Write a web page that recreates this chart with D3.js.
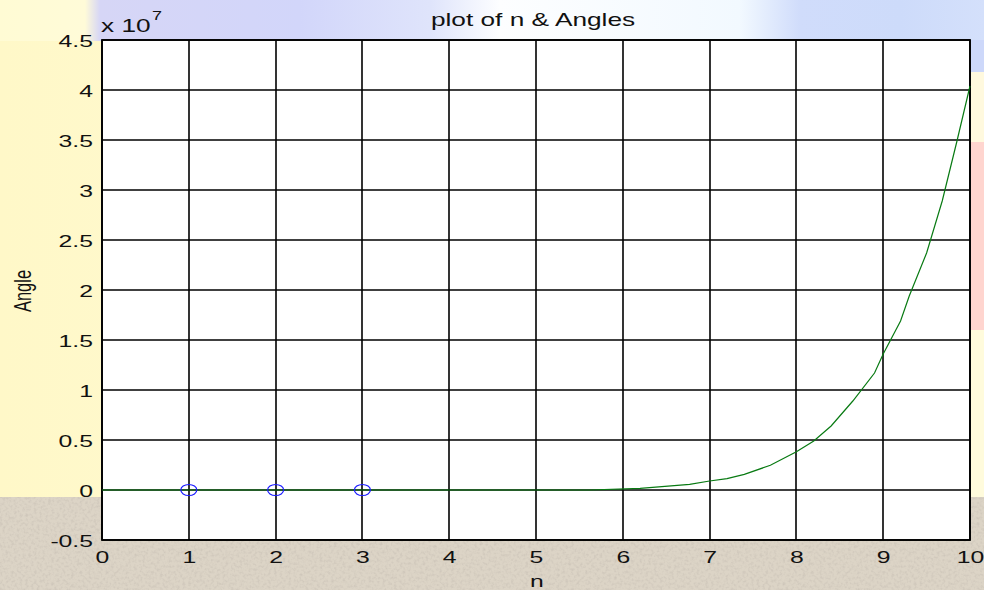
<!DOCTYPE html>
<html>
<head>
<meta charset="utf-8">
<script src="https://cdn.jsdelivr.net/npm/d3@7/dist/d3.min.js"></script>
<style>
  html, body { margin: 0; padding: 0; background: #dcd4c6; }
  svg { display: block; }
  text { font-family: "Liberation Sans", Arial, sans-serif; fill: #111; }
</style>
</head>
<body>
<script>
// ---- data ----
const xTicks = [0, 1, 2, 3, 4, 5, 6, 7, 8, 9, 10];
const yTicks = [-0.5e7, 0, 0.5e7, 1e7, 1.5e7, 2e7, 2.5e7, 3e7, 3.5e7, 4e7, 4.5e7];
const yTickLabels = ["-0.5", "0", "0.5", "1", "1.5", "2", "2.5", "3", "3.5", "4", "4.5"];
const markerN = [1, 2, 3];
const markerAngle = [0, 0, 0];
const curveN = [0, 5.62, 6.2, 6.77, 7.0, 7.2, 7.4, 7.7, 8.0, 8.2, 8.4, 8.65, 8.9, 9.0, 9.2, 9.3, 9.5, 9.68, 9.85, 10];
const curveAngle = [0, 0, 0.017e7, 0.057e7, 0.09e7, 0.113e7, 0.157e7, 0.247e7, 0.383e7, 0.49e7, 0.64e7,
                    0.89e7, 1.17e7, 1.36e7, 1.69e7, 1.94e7, 2.37e7, 2.89e7, 3.49e7, 4.04e7];
const titleText = "plot of n & Angles";
const xLabel = "n";
const yLabel = "Angle";

const W = 984, H = 590;
const SX = 1.5; // horizontal stretch of the original picture
const svg = d3.select("body").append("svg").attr("width", W).attr("height", H);
const defs = svg.append("defs");

// ---- background ----
const gl = defs.append("linearGradient").attr("id", "leftYellow").attr("x1", 0).attr("x2", 1).attr("y1", 0).attr("y2", 0);
gl.append("stop").attr("offset", 0).attr("stop-color", "#fff8c8");
gl.append("stop").attr("offset", 1).attr("stop-color", "#fffde2");
const gt = defs.append("linearGradient").attr("id", "topBlue").attr("gradientUnits", "userSpaceOnUse")
  .attr("x1", 0).attr("x2", W).attr("y1", 0).attr("y2", 0);
[[0, "#fffbd4"], [85, "#fffbd8"], [100, "#d6d6f6"], [300, "#d2d6fa"], [430, "#dfe4fb"], [500, "#fdfeff"],
 [740, "#f2f9ff"], [800, "#d0dcfb"], [900, "#cddbfa"], [984, "#d4e0fb"]].forEach(([o, c]) =>
  gt.append("stop").attr("offset", o / W).attr("stop-color", c));
const turb = defs.append("filter").attr("id", "grain").attr("x", 0).attr("y", 0).attr("width", 1).attr("height", 1);
turb.append("feTurbulence").attr("type", "fractalNoise").attr("baseFrequency", 0.35).attr("numOctaves", 2).attr("seed", 3);
turb.append("feColorMatrix").attr("type", "matrix")
  .attr("values", "0 0 0 0 0.55  0 0 0 0 0.5  0 0 0 0 0.44  0 0 0 -2.2 1.25");

svg.append("rect").attr("width", W).attr("height", H).attr("fill", "#dcd4c6");
svg.append("rect").attr("y", 497).attr("width", W).attr("height", H - 497).attr("filter", "url(#grain)").attr("opacity", 0.55);
svg.append("rect").attr("width", W).attr("height", 497).attr("fill", "url(#leftYellow)");
svg.append("rect").attr("width", W).attr("height", 41).attr("fill", "url(#topBlue)");
svg.append("rect").attr("x", 970).attr("y", 40).attr("width", 14).attr("height", 32).attr("fill", "#cdd8fa");
svg.append("rect").attr("x", 970).attr("y", 72).attr("width", 14).attr("height", 70).attr("fill", "#fff9de");
svg.append("rect").attr("x", 970).attr("y", 142).attr("width", 14).attr("height", 188).attr("fill", "#ffd5cf");
svg.append("rect").attr("x", 970).attr("y", 330).attr("width", 14).attr("height", 167).attr("fill", "#fffbdc");

// ---- scales ----
const x = d3.scaleLinear().domain([0, 10]).range([102, 970]);
const y = d3.scaleLinear().domain([-0.5e7, 4.5e7]).range([540, 40]);

// plot area
svg.append("rect").attr("x", x(0)).attr("y", y(4.5e7)).attr("width", x(10) - x(0)).attr("height", y(-0.5e7) - y(4.5e7))
  .attr("fill", "#ffffff");

// grid
const grid = svg.append("g").attr("stroke", "#000").attr("stroke-width", 1.6);
grid.selectAll("line.v").data(xTicks).join("line").attr("class", "v")
  .attr("x1", d => Math.round(x(d))).attr("x2", d => Math.round(x(d))).attr("y1", y(4.5e7)).attr("y2", y(-0.5e7));
grid.selectAll("line.h").data(yTicks).join("line").attr("class", "h")
  .attr("x1", x(0)).attr("x2", x(10)).attr("y1", d => Math.round(y(d))).attr("y2", d => Math.round(y(d)));
svg.append("rect").attr("x", x(0)).attr("y", y(4.5e7)).attr("width", x(10) - x(0)).attr("height", y(-0.5e7) - y(4.5e7))
  .attr("fill", "none").attr("stroke", "#000").attr("stroke-width", 1.8);

// axes (labels only)
const xAxis = svg.append("g").attr("transform", `translate(0,${y(-0.5e7)})`)
  .call(d3.axisBottom(x).tickValues(xTicks).tickSize(0).tickFormat(d3.format("d")));
xAxis.select(".domain").remove();
xAxis.selectAll("text").attr("y", null).attr("dy", null)
  .attr("transform", `translate(0,23) scale(${SX},1)`)
  .attr("font-size", 16.5).attr("font-family", "Liberation Sans, Arial, sans-serif").attr("fill", "#111");

const yAxis = svg.append("g").attr("transform", `translate(${x(0)},0)`)
  .call(d3.axisLeft(y).tickValues(yTicks).tickSize(0).tickFormat((d, i) => yTickLabels[i]));
yAxis.select(".domain").remove();
yAxis.selectAll("text").attr("x", null).attr("dy", null)
  .attr("transform", `translate(-9,6) scale(${SX},1)`)
  .attr("font-size", 16.5).attr("font-family", "Liberation Sans, Arial, sans-serif").attr("fill", "#111");

// exponent
svg.append("text").attr("transform", `translate(101,32) scale(${SX},1)`).attr("font-size", 17.5).text("x 10");
svg.append("text").attr("transform", `translate(152,20) scale(${SX},1)`).attr("font-size", 12).text("7");

// title & labels
svg.append("text").attr("transform", `translate(533,26) scale(${SX},1)`).attr("text-anchor", "middle")
  .attr("font-size", 17.5).text(titleText);
svg.append("text").attr("transform", `translate(537,587) scale(${SX},1)`).attr("text-anchor", "middle")
  .attr("font-size", 16.5).text(xLabel);
svg.append("text").attr("transform", `translate(31,291) rotate(-90) scale(1,${SX})`).attr("text-anchor", "middle")
  .attr("font-size", 16.5).text(yLabel);

// series
const curve = curveN.map((n, i) => [n, curveAngle[i]]);
svg.append("path").datum(curve)
  .attr("d", d3.line().x(d => x(d[0])).y(d => y(d[1])))
  .attr("fill", "none").attr("stroke", "#087a12").attr("stroke-width", 1.2);

svg.selectAll("ellipse.m").data(markerN.map((n, i) => [n, markerAngle[i]])).join("ellipse").attr("class", "m")
  .attr("cx", d => x(d[0])).attr("cy", d => y(d[1])).attr("rx", 8).attr("ry", 5.5)
  .attr("fill", "none").attr("stroke", "#1a1aff").attr("stroke-width", 1.2);
</script>
</body>
</html>
